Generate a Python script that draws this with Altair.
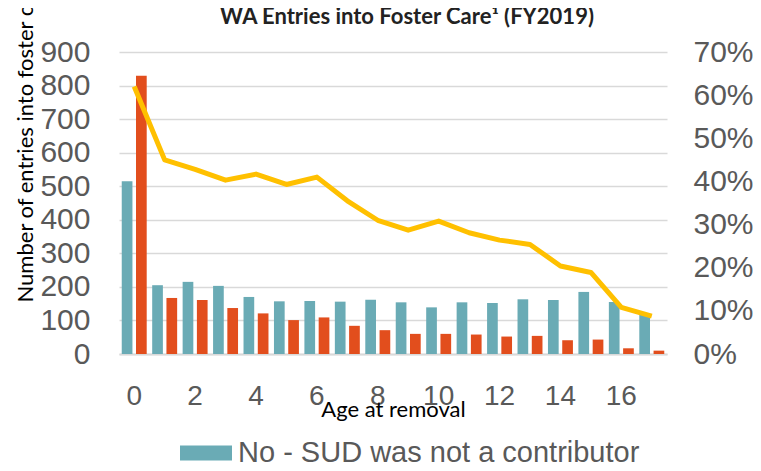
import altair as alt
import pandas as pd

ages = list(range(18))
no_sud = [515, 205, 215, 203, 170, 157, 158, 156, 162, 154, 139, 154, 152, 163, 161, 185, 155, 117]
yes_sud = [829, 167, 161, 137, 121, 101, 109, 84, 71, 60, 60, 58, 52, 54, 41, 43, 17, 10]
pct_sud = [0.62, 0.45, 0.428, 0.403, 0.417, 0.393, 0.41, 0.355, 0.31, 0.287, 0.308,
           0.281, 0.264, 0.254, 0.204, 0.189, 0.108, 0.088]
series_names = ["No - SUD was not a contributor", "Yes - SUD was a contributor"]
series_colors = ["#6AABB5", "#E24E1D"]
line_color = "#FFC000"

left_ticks = list(range(0, 1000, 100))
right_ticks = [i / 10 for i in range(8)]
x_ticks = list(range(0, 18, 2))

bars_df = pd.DataFrame({
    "age": ages * 2,
    "count": no_sud + yes_sud,
    "group": [series_names[0]] * len(ages) + [series_names[1]] * len(ages),
})
line_df = pd.DataFrame({"age": ages, "pct": pct_sud})

grey = "#595959"
x_scale = alt.Scale(paddingInner=0.18, paddingOuter=0.09)
x_axis = alt.Axis(
    values=x_ticks, labelAngle=0, title="Age at removal",
    labelFont="Liberation Sans", labelFontSize=28, labelColor=grey, labelPadding=28,
    ticks=False, tickSize=0, domain=True, domainColor="#D9D9D9", domainWidth=2,
    titleFont="Lato", titleFontSize=22, titleFontWeight="normal", titleColor="#000000",
    titleY=55, titleBaseline="middle",
)

bars = alt.Chart(bars_df).mark_bar().encode(
    x=alt.X("age:O", scale=x_scale, axis=x_axis),
    xOffset=alt.XOffset("group:N", sort=series_names, scale=alt.Scale(paddingInner=0.25)),
    y=alt.Y("count:Q", scale=alt.Scale(domain=[0, 900], nice=False),
            axis=alt.Axis(values=left_ticks, title="Number of entries into foster care",
                          titleFont="Lato", titleFontSize=22, titleFontWeight="normal",
                          titleColor="#000000", titleAngle=270, titleAlign="left",
                          titleBaseline="alphabetic", titleX=-87, titleY=250,
                          labelFont="Liberation Sans", labelFontSize=30, labelColor=grey,
                          labelPadding=29, grid=True, gridColor="#D9D9D9", gridWidth=1.5,
                          domain=False, ticks=False)),
    color=alt.Color("group:N", scale=alt.Scale(domain=series_names, range=series_colors),
                    legend=alt.Legend(orient="none", legendX=61, legendY=375,
                                      direction="vertical", title=None,
                                      symbolType="M-1,-0.29H1V0.29H-1Z", symbolSize=2704,
                                      symbolStrokeWidth=0, labelFont="Liberation Sans",
                                      labelFontSize=29, labelColor=grey, labelOffset=6,
                                      labelLimit=600, rowPadding=20)),
)

line = alt.Chart(line_df).mark_line(color=line_color, strokeWidth=5, strokeJoin="round").encode(
    x=alt.X("age:O", scale=x_scale, axis=x_axis),
    y=alt.Y("pct:Q", scale=alt.Scale(domain=[0, 0.7], nice=False),
            axis=alt.Axis(orient="right", values=right_ticks, format=".0%", title=None,
                          labelFont="Liberation Sans", labelFontSize=30, labelColor=grey,
                          labelPadding=26, grid=False, domain=False, ticks=False)),
)

chart = alt.layer(bars, line).resolve_scale(y="independent").properties(
    width=548, height=302,
    title=alt.TitleParams("WA Entries into Foster Care\u00b9 (FY2019)", font="Lato",
                          fontSize=22, fontWeight="bold", color="#222222",
                          anchor="middle", frame="group", dx=14, dy=59),
    autosize=alt.AutoSizeParams(type="none"),
    padding={"left": 111, "top": 44, "right": 86, "bottom": 109},
).configure_view(stroke=None)

chart.save("out.html", embed_options={"renderer": "svg", "actions": False})
